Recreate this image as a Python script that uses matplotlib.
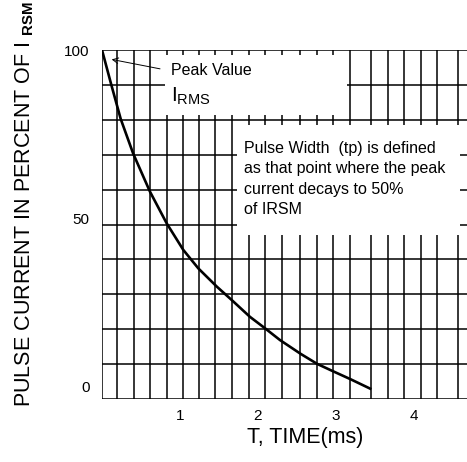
import matplotlib
matplotlib.use("Agg")
import matplotlib.pyplot as plt
from matplotlib.patches import Rectangle
import numpy as np

plt.rcParams['font.family'] = ['Liberation Sans', 'DejaVu Sans']
plt.rcParams['mathtext.fontset'] = 'custom'
plt.rcParams['mathtext.rm'] = 'Liberation Sans'
plt.rcParams['mathtext.it'] = 'Liberation Sans:italic'
plt.rcParams['mathtext.bf'] = 'Liberation Sans:bold'

# ---- data ----
time_ms = [0.0, 0.12, 0.24, 0.40, 0.615, 0.829, 1.042, 1.235, 1.471, 1.663,
           1.897, 2.090, 2.282, 2.547, 2.760, 2.965, 3.183, 3.453]
current_pct = [100.0, 89.6, 79.5, 69.2, 57.9, 48.5, 40.6, 35.1, 29.7, 25.7,
               20.7, 17.3, 13.8, 9.7, 6.7, 4.5, 2.2, -0.8]
x_ticks = [1, 2, 3, 4]
x_tick_labels = ["1", "2", "3", "4"]
y_ticks = [0, 50, 100]
y_tick_labels = ["0", "50", "100"]
grid_x = [0.0, 0.192, 0.410, 0.615, 0.833, 1.038, 1.244, 1.449, 1.667, 1.885,
          2.090, 2.308, 2.538, 2.756, 2.962, 3.179, 3.449, 3.667, 3.872, 4.090,
          4.295, 4.564]

W, H = 467, 462
fig = plt.figure(figsize=(W / 100, H / 100), dpi=100)
L, R, T, B = 102, 467, 50, 399
ax = fig.add_axes([L / W, 1 - B / H, (R - L) / W, (B - T) / H])

xmax = (R - L) / 78.0
ymin = 100 - (B - T) / 3.365
ax.set_xlim(0, xmax)
ax.set_ylim(ymin, 100)

for s in ax.spines.values():
    s.set_visible(False)

lw_grid = 1.1
for gx in grid_x:
    ax.axvline(gx, color='black', lw=lw_grid, zorder=1)
for gy in np.linspace(ymin, 100, 11):
    ax.axhline(gy, color='black', lw=lw_grid, zorder=1)

# white boxes behind text
ax.add_patch(Rectangle((0.808, 80.7), 3.141 - 0.808, 98.5 - 80.7,
                       facecolor='white', edgecolor='none', zorder=2))
ax.add_patch(Rectangle((1.731, 45.0), 4.590 - 1.731, 77.7 - 45.0,
                       facecolor='white', edgecolor='none', zorder=2))

ax.plot(time_ms, current_pct, color='black', lw=1.9, zorder=3,
        solid_capstyle='butt', solid_joinstyle='round')

ax.set_xticks(x_ticks)
ax.set_xticklabels(x_tick_labels, fontsize=11)
ax.set_yticks(y_ticks)
ax.set_yticklabels(y_tick_labels, fontsize=11)
ax.tick_params(axis='x', length=0, pad=7)
ax.tick_params(axis='y', length=0, pad=9)

# annotations
ax.annotate('', xy=(0.124, 97.2), xytext=(0.744, 94.4),
            arrowprops=dict(arrowstyle='->', color='black', lw=0.7,
                            shrinkA=0, shrinkB=0), zorder=4)
ax.text(0.881, 92.6, 'Peak Value', fontsize=11.5, ha='left', va='baseline', zorder=4)
ax.text(0.881, 84.6, r'I$_{\mathrm{RMS}}$', fontsize=15, ha='left', va='baseline', zorder=4)
ax.text(1.821, 73.0,
        'Pulse Width  (tp) is defined\nas that point where the peak\ncurrent decays to 50%\nof IRSM',
        fontsize=11.5, ha='left', va='top', linespacing=1.45, zorder=4)

fig.text(305 / W, 1 - 437 / H, 'T, TIME(ms)', fontsize=15.5, ha='center', va='center')
fig.text(25 / W, 1 - 203.5 / H, r'PULSE CURRENT IN PERCENT OF I $_{\mathbf{RSM}}$',
         fontsize=15.5, rotation=90, ha='center', va='center')

fig.savefig('out.png', dpi=100)
